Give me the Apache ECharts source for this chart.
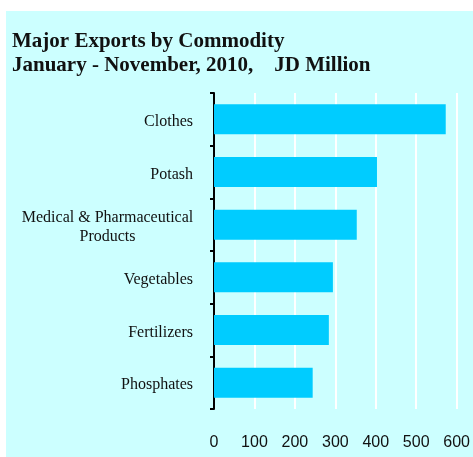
<!DOCTYPE html>
<html>
<head>
<meta charset="utf-8">
<script src="https://cdn.jsdelivr.net/npm/echarts@6/dist/echarts.min.js"></script>
<style>
  html, body { margin: 0; padding: 0; background: #fff; }
  #main { width: 473px; height: 457px; }
</style>
</head>
<body>
<div id="main"></div>
<script>
// data, JD Million
var commodities = ['Clothes', 'Potash', 'Medical & Pharmaceutical\nProducts', 'Vegetables', 'Fertilizers', 'Phosphates'];
var exportValues = [573, 403, 353, 294, 284, 244];
var xTicks = [0, 100, 200, 300, 400, 500, 600];

var serif = '"Liberation Serif", "Times New Roman", serif';
var chart = echarts.init(document.getElementById('main'));

var option = {
    backgroundColor: '#ffffff',
    animation: false,
    // cyan panel behind everything
    graphic: [{
        type: 'rect',
        z: -100,
        shape: { x: 6, y: 11, width: 467, height: 446 },
        style: { fill: '#ccffff' }
    }],
    title: {
        text: 'Major Exports by Commodity\nJanuary - November, 2010,    JD Million',
        left: 7,
        top: 25,
        textStyle: {
            fontFamily: serif,
            fontWeight: 'bold',
            fontSize: 21,
            lineHeight: 24,
            color: '#111'
        }
    },
    grid: {
        left: 214,
        right: 16,
        top: 93,
        bottom: 48
    },
    xAxis: {
        type: 'value',
        min: xTicks[0],
        max: xTicks[xTicks.length - 1],
        interval: 100,
        axisLine: { show: false },
        axisTick: { show: false },
        splitLine: { show: true, lineStyle: { color: '#ffffff', width: 2 } },
        axisLabel: {
            margin: 26,
            fontFamily: '"Liberation Sans", Arial, sans-serif',
            fontSize: 16,
            color: '#111'
        }
    },
    yAxis: {
        type: 'category',
        inverse: true,
        data: commodities,
        axisLine: { show: true, lineStyle: { color: '#000', width: 2 } },
        axisTick: { show: true, length: 4, lineStyle: { color: '#000', width: 2 } },
        splitLine: { show: false },
        axisLabel: {
            margin: 21,
            padding: [5, 0, 0, 0],
            fontFamily: serif,
            fontSize: 16,
            color: '#111',
            lineHeight: 19,
            formatter: function (val) {
                // two-line label is centred line by line
                if (val.indexOf('\n') >= 0) {
                    return val.split('\n').map(function (s) { return '{c|' + s + '}'; }).join('\n');
                }
                return val;
            },
            rich: {
                c: {
                    width: 171,
                    align: 'center',
                    fontFamily: serif,
                    fontSize: 16,
                    lineHeight: 19,
                    color: '#111'
                }
            }
        }
    },
    series: [{
        name: 'Exports',
        type: 'bar',
        data: exportValues,
        barWidth: 30,
        itemStyle: { color: '#00ccff' }
    }]
};

chart.setOption(option);
</script>
</body>
</html>
